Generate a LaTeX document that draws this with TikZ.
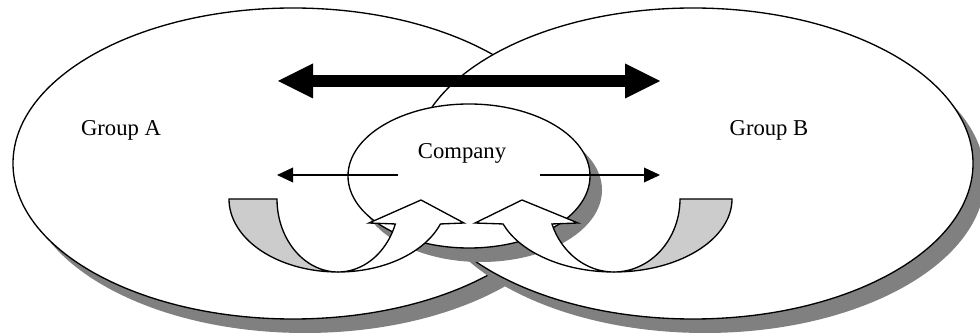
\documentclass[tikz,border=0pt]{standalone}
\usepackage{fontspec}
\setmainfont{Liberation Serif}
\usetikzlibrary{shapes.geometric,arrows.meta,shadows}
\definecolor{shadowgray}{RGB}{128,128,128}
\definecolor{backfill}{RGB}{204,204,204}
\begin{document}
\begin{tikzpicture}[x=0.75pt,y=-0.75pt,
  shad/.style={drop shadow={shadow xshift=9pt, shadow yshift=-10.5pt, fill=shadowgray, opacity=1}},
  groupell/.style={ellipse, draw, line width=1pt, fill=white, inner sep=0pt,
    minimum width=420pt, minimum height=233.25pt, shad},
  compell/.style={ellipse, draw, line width=1pt, fill=white, inner sep=0pt,
    minimum width=181.5pt, minimum height=108pt, shad},
  lbl/.style={inner sep=0pt, font=\fontsize{17}{20}\selectfont},
  backpart/.style={draw, line width=1pt, fill=backfill},
  frontpart/.style={draw, line width=1pt, fill=white},
  thickarrow/.style={line width=9pt,
    {Triangle[length=26.25pt,width=26.25pt,line width=0pt]}-{Triangle[length=26.25pt,width=26.25pt,line width=0pt]}},
  thinarrow/.style={line width=1pt, -{Triangle[length=12pt,width=11pt]}}
]
\useasboundingbox (0,0) rectangle (980,334);
% group ellipses
\node[groupell] (A) at (293,163.5) {};
\node[groupell] (B) at (693,163.5) {};
% company
\node[compell] (C) at (469,176) {};
% labels
\node[lbl] (ta) at (121,130) {Group A};
\node[lbl] (tb) at (769,130) {Group B};
\node[lbl] (tc) at (462,153) {Company};
% thick double arrow
\coordinate (thickL) at (278,81);
\coordinate (thickR) at (660,81);
\draw[thickarrow] (thickL) -- (thickR);
% thin arrows
\coordinate (thinLs) at (398,175);
\coordinate (thinLe) at (277,175);
\coordinate (thinRs) at (540,175);
\coordinate (thinRe) at (660,175);
\draw[thinarrow] (thinLs) -- (thinLe);
\draw[thinarrow] (thinRs) -- (thinRe);
% left curved arrow
\draw[backpart] plot[domain=180:90, samples=40] ({338+109*cos(\x)},{199+73*sin(\x)})
  -- plot[domain=90:180, samples=40] ({338+61*cos(\x)},{199+73*sin(\x)}) -- cycle;
\draw[frontpart] plot[domain=90:20, samples=40] ({338+109*cos(\x)},{199+73*sin(\x)})
  -- (464,223) -- (421,200) -- (369,223)
  -- plot[domain=20:90, samples=40] ({338+61*cos(\x)},{199+73*sin(\x)}) -- cycle;
% right curved arrow
\draw[backpart] plot[domain=0:90, samples=40] ({614+118*cos(\x)},{199+73*sin(\x)})
  -- plot[domain=90:0, samples=40] ({614+66*cos(\x)},{199+73*sin(\x)}) -- cycle;
\draw[frontpart] plot[domain=90:160, samples=40] ({614+118*cos(\x)},{199+73*sin(\x)})
  -- (475,223) -- (522,200) -- (578,223)
  -- plot[domain=160:90, samples=40] ({614+66*cos(\x)},{199+73*sin(\x)}) -- cycle;
\end{tikzpicture}
\end{document}
